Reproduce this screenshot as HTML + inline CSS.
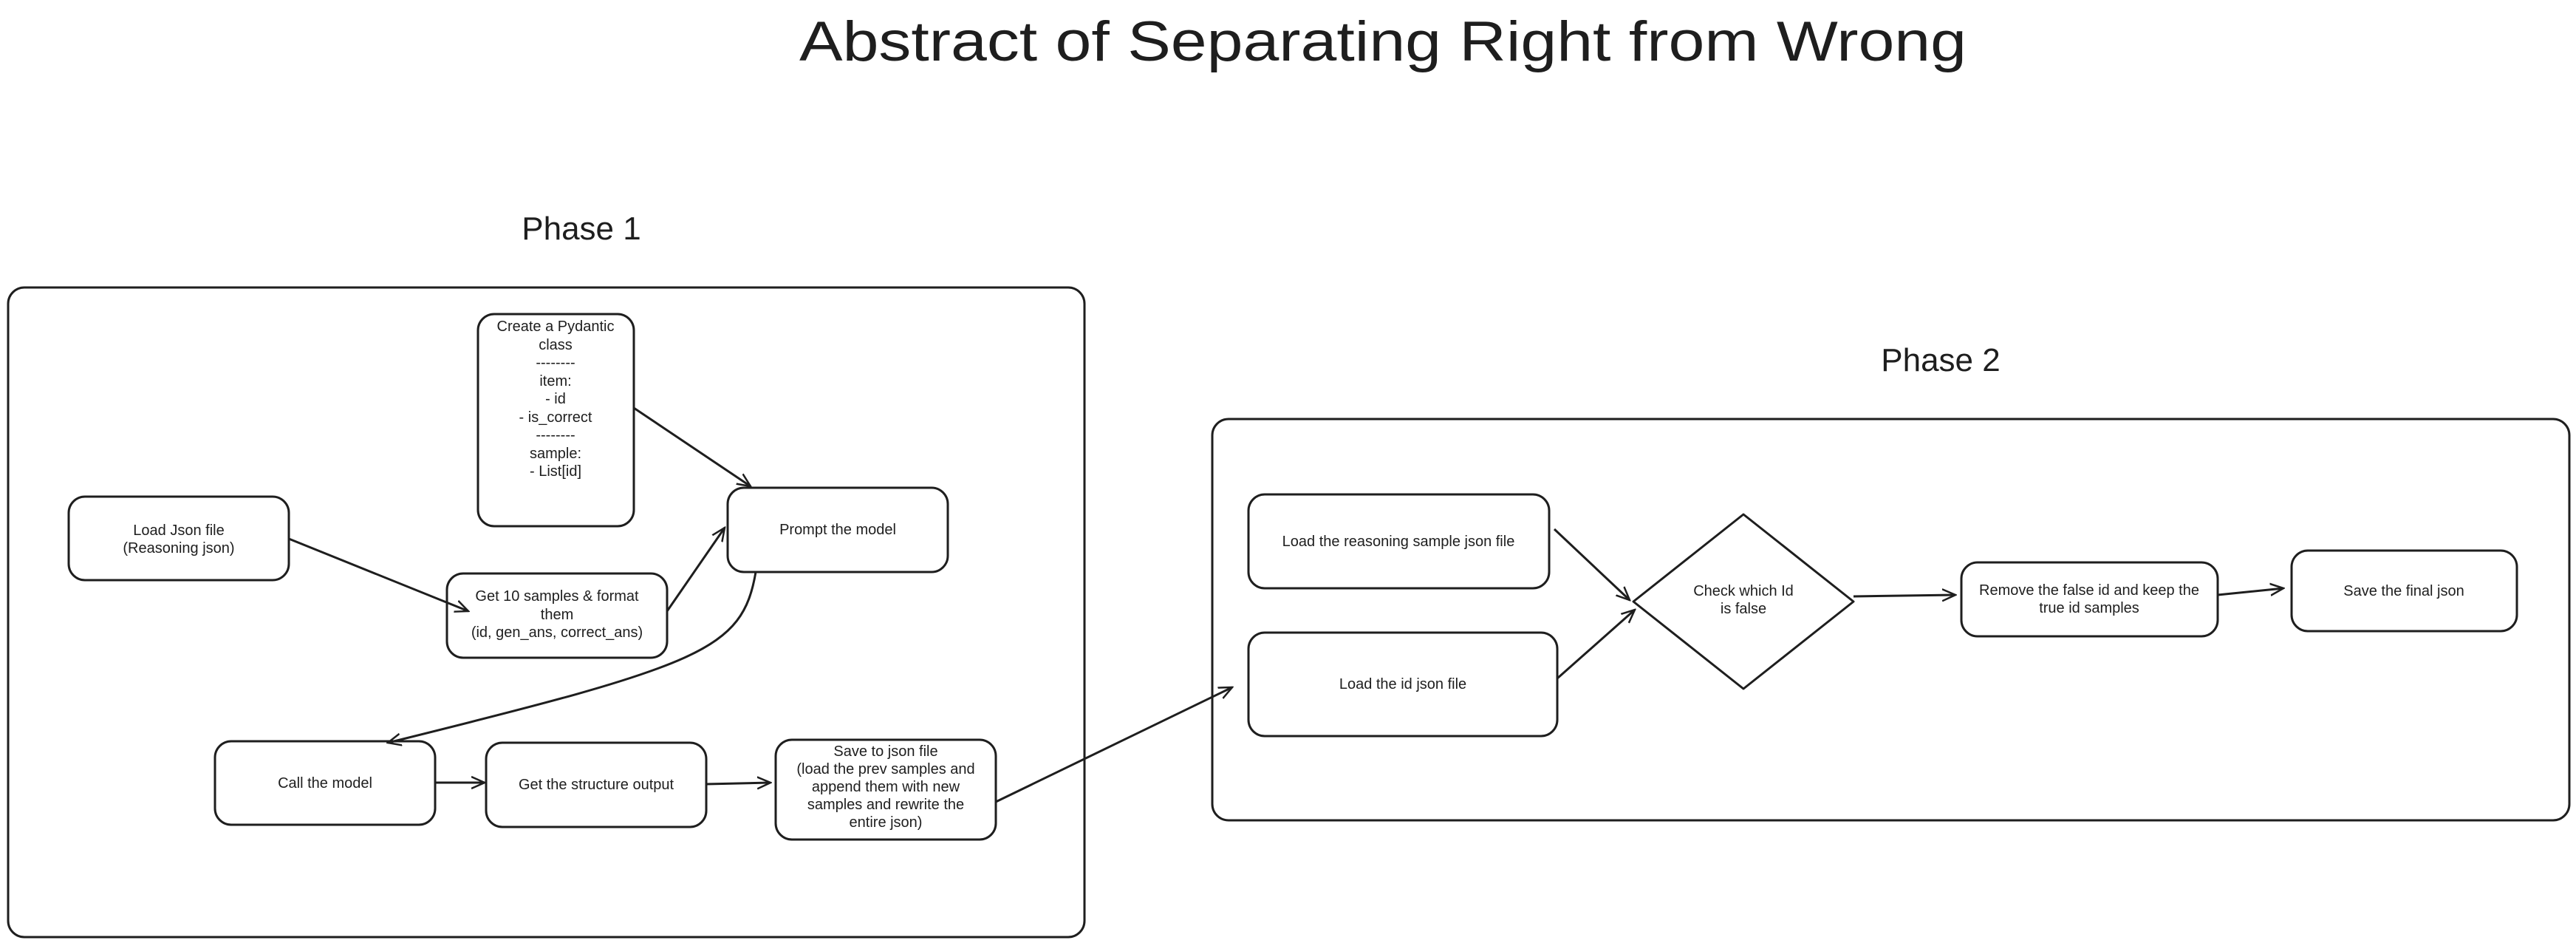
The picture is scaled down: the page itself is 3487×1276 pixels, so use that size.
<!DOCTYPE html>
<html><head><meta charset="utf-8"><style>
html,body{margin:0;padding:0;background:#fff;}
svg{display:block;}
text{font-family:"Liberation Sans",sans-serif;fill:#1e1e1e;}
</style></head><body>
<svg width="3487" height="1276" viewBox="0 0 3487 1276" xmlns="http://www.w3.org/2000/svg">
<defs>
<marker id="a" viewBox="0 0 20 20" refX="18" refY="10" markerWidth="20" markerHeight="20" markerUnits="userSpaceOnUse" orient="auto">
<path d="M0 2 L18 10 L0 18" fill="none" stroke="#1e1e1e" stroke-width="2.5"/>
</marker>
</defs>
<rect width="3487" height="1276" fill="#fff"/>
<text x="1872" y="82" font-size="76" text-anchor="middle" textLength="1580" lengthAdjust="spacingAndGlyphs">Abstract of Separating Right from Wrong</text>
<text x="787" y="324" font-size="44" text-anchor="middle">Phase 1</text>
<text x="2627" y="502" font-size="44" text-anchor="middle">Phase 2</text>
<g fill="none" stroke="#1e1e1e" stroke-width="3">
<rect x="11" y="389" width="1457" height="879" rx="22"/>
<rect x="1641" y="567" width="1837" height="543" rx="22"/>
<rect x="647" y="425" width="211" height="287" rx="22"/>
<rect x="93" y="672" width="298" height="113" rx="22"/>
<rect x="605" y="776" width="298" height="114" rx="22"/>
<rect x="985" y="660" width="298" height="114" rx="22"/>
<rect x="291" y="1003" width="298" height="113" rx="22"/>
<rect x="658" y="1005" width="298" height="114" rx="22"/>
<rect x="1050" y="1001" width="298" height="135" rx="22"/>
<rect x="1690" y="669" width="407" height="127" rx="22"/>
<rect x="1690" y="856" width="418" height="140" rx="22"/>
<path d="M2360 696 L2509 814 L2360 932 L2211 814 Z" stroke-linejoin="round"/>
<rect x="2655" y="761" width="347" height="100" rx="22"/>
<rect x="3102" y="745" width="305" height="109" rx="22"/>
</g>
<g fill="none" stroke="#1e1e1e" stroke-width="3" marker-end="url(#a)">
<path d="M858 552 L1016 658"/>
<path d="M391 729 L634 827"/>
<path d="M903 827 L981 714"/>
<path d="M1023 774 C1005 880 950 900 525 1005"/>
<path d="M589 1059 L656 1059"/>
<path d="M956 1061 L1043 1059"/>
<path d="M1348 1085 L1668 930"/>
<path d="M2104 716 L2206 812"/>
<path d="M2108 918 L2213 825"/>
<path d="M2509 807 L2647 805"/>
<path d="M3002 805 L3091 796"/>
</g>
<g font-size="20" text-anchor="middle">
<text x="752" y="448">Create a Pydantic</text>
<text x="752" y="473">class</text>
<text x="752" y="497">--------</text>
<text x="752" y="522">item:</text>
<text x="752" y="546">- id</text>
<text x="752" y="571">- is_correct</text>
<text x="752" y="595">--------</text>
<text x="752" y="620">sample:</text>
<text x="752" y="644">- List[id]</text>
<text x="242" y="724">Load Json file</text>
<text x="242" y="748">(Reasoning json)</text>
<text x="754" y="813">Get 10 samples &amp; format</text>
<text x="754" y="838">them</text>
<text x="754" y="862">(id, gen_ans, correct_ans)</text>
<text x="1134" y="723">Prompt the model</text>
<text x="440" y="1066">Call the model</text>
<text x="807" y="1068">Get the structure output</text>
<text x="1199" y="1023">Save to json file</text>
<text x="1199" y="1047">(load the prev samples and</text>
<text x="1199" y="1071">append them with new</text>
<text x="1199" y="1095">samples and rewrite the</text>
<text x="1199" y="1119">entire json)</text>
<text x="1893" y="739">Load the reasoning sample json file</text>
<text x="1899" y="932">Load the id json file</text>
<text x="2360" y="806">Check which Id</text>
<text x="2360" y="830">is false</text>
<text x="2828" y="805">Remove the false id and keep the</text>
<text x="2828" y="829">true id samples</text>
<text x="3254" y="806">Save the final json</text>
</g>
</svg>
</body></html>
